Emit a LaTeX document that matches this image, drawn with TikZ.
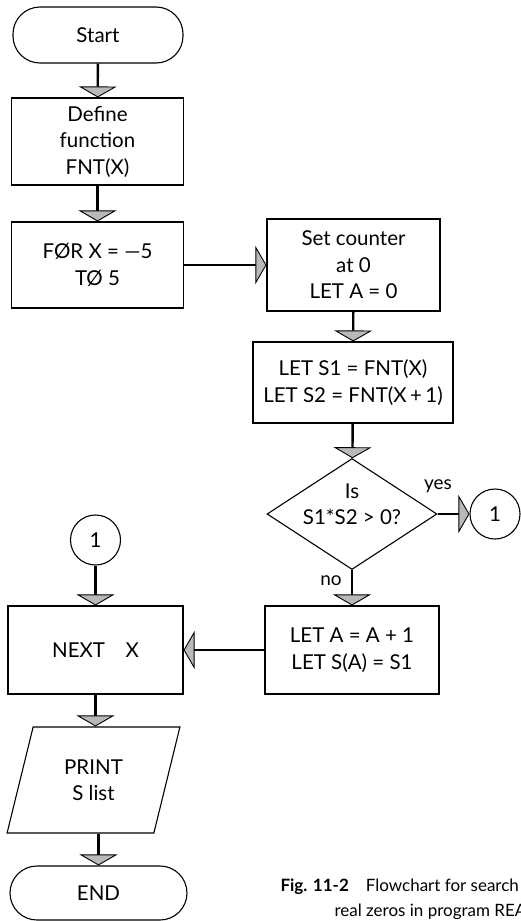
\documentclass[tikz,border=0pt]{standalone}
\usepackage{fontspec}
\setmainfont{Lato}
\usetikzlibrary{arrows.meta,positioning,shapes.geometric,calc}

\begin{document}
\begin{tikzpicture}[
  x=1pt, y=1pt,
  font=\fontsize{20.5}{26.5}\selectfont,
  box/.style={draw,line width=1.1pt,align=center,inner sep=0pt,minimum width=172pt},
  term/.style={box,rounded corners=27pt,minimum height=56pt},
  conn/.style={draw,circle,line width=1.1pt,minimum size=50pt,inner sep=0pt},
  flow/.style={line width=2.4pt,-{Triangle[width=38pt,length=11pt,fill=gray!55,line width=0.9pt]}},
  lbl/.style={font=\fontsize{19}{20}\selectfont},
  figcap/.style={anchor=base west,font=\fontsize{17}{20}\selectfont},
]
  % cuadro del dibujo: 521 x 921
  \useasboundingbox (0,0) rectangle (521,-921);

  \node[term,minimum width=170pt] (start) at (98,-35) {Start};
  \node[box,minimum height=87pt] (define) at (97.5,-141.5) {Define\\function\\FNT(X)};
  \node[box,minimum height=86pt] (forx) at (97.5,-265) {FØR X = —5\\TØ 5};

  \node[box,minimum width=173pt,minimum height=92pt] (setctr) at (353.5,-265)
        {Set counter\\at 0\\LET A = 0};
  \node[box,minimum width=200pt,minimum height=81pt] (lets) at (353,-382.5)
        {LET S1 = FNT(X)\\LET S2 = FNT(X\,+\,1)};
  \node[draw,diamond,line width=1.1pt,inner sep=0pt,minimum width=170pt,
        minimum height=111pt] (test) at (352,-514) {};
  \node[align=center] (testtxt) at (352,-504) {Is\\S1*S2 > 0?};
  \node[conn] (conn1) at (495,-514) {1};
  \node[lbl] (yes) at (438,-486) {yes};
  \node[lbl] (no) at (331,-581) {no};
  \node[box,minimum width=174pt,minimum height=88pt] (leta) at (352,-650)
        {LET A = A + 1\\LET S(A) = S1};

  \node[conn] (conn2) at (95.5,-540) {1};
  \node[box,minimum width=175pt,minimum height=88pt] (nextx) at (95.5,-650) {NEXT\quad X};
  \node[draw,trapezium,trapezium left angle=73,trapezium right angle=107,
        trapezium stretches=true,line width=1.1pt,minimum width=173pt,
        minimum height=106pt,align=center,inner sep=0pt] (print) at (93.5,-780)
        {PRINT\\S list};
  \node[term,minimum width=177pt,minimum height=54pt] (stop) at (98.5,-893) {END};

  \draw[flow] (start) -- (define);
  \draw[flow] (define) -- (forx);
  \draw[flow] (forx) -- (setctr);
  \draw[flow] (setctr) -- (lets);
  \draw[flow] (lets) -- (test);
  \draw[flow] (test) -- (conn1);
  \draw[flow] (test) -- (leta);
  \draw[flow] (leta) -- (nextx);
  \draw[flow] (conn2) -- (nextx);
  % el paralelogramo esta corrido: las flechas bajan rectas por la columna
  \draw[flow] (nextx.south) -- (nextx.south |- print.north);
  \draw[flow] (print.south -| stop.north) -- (stop.north);

  \node[figcap] (cap1) at (277,-891) {\textbf{Fig. 11-2}\quad Flowchart for search};
  \node[figcap] (cap2) at (331,-916) {real zeros in program REA};
\end{tikzpicture}
\end{document}
